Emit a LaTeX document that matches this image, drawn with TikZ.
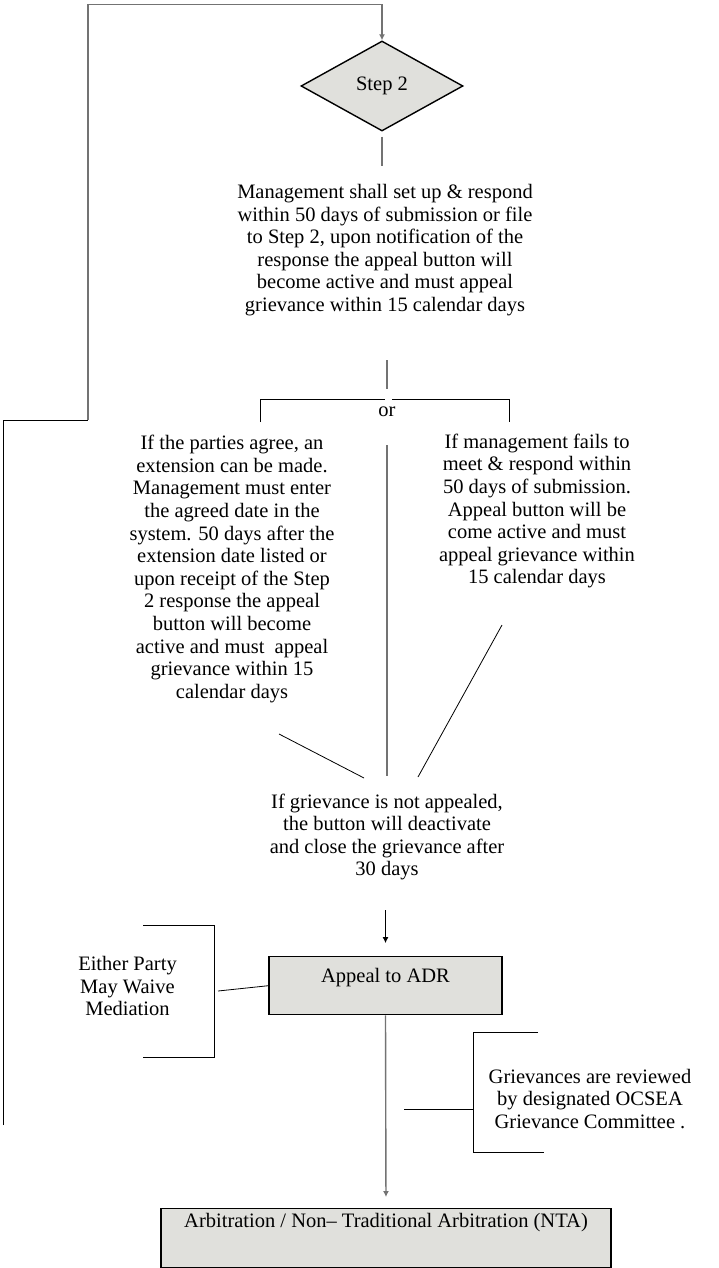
\documentclass[tikz,border=0pt]{standalone}
\usepackage{fontspec}
\setmainfont{Liberation Serif}
\usetikzlibrary{arrows.meta,shapes.geometric}

\definecolor{boxgray}{RGB}{224,224,220}

\begin{document}
\begin{tikzpicture}[x=1pt,y=-1pt,
	txt/.style={align=center,inner sep=0pt,font=\fontsize{20.5}{22.6}\selectfont},
	grayln/.style={draw=black!55,line width=1.4pt},
	thinln/.style={draw=black,line width=0.8pt},
	tipln/.style={-{Latex[length=6pt,width=6pt]}},
	stepbox/.style={draw,fill=boxgray,line width=1.4pt,font=\fontsize{20.5}{22.6}\selectfont}]
\useasboundingbox (0,0) rectangle (719,1268);

% step 2 and its response text
\node[stepbox,shape=diamond,inner sep=0pt,minimum width=162pt,minimum height=90pt] (step) at (382,86) {Step 2};
\node[txt] (mgmt) at (385,250) {Management shall set up \& respond\\within 50 days of submission or file\\to Step 2, upon notification of the\\response the appeal button will\\become active and must appeal\\grievance within 15 calendar days};
\draw[grayln] ([yshift=-5pt]step.south) -- ([yshift=-34pt]step.south);

% the two branches
\coordinate (split) at (387,360);
\coordinate (fork) at (387,389);
\draw[grayln] (split) -- (fork);
\draw[thinln] (260,422) |- (385,399);
\draw[thinln] (392,399) -| (509,422);
\node[txt] (or) at (387,412) {or};
\node[txt] (agree) at (232,569) {If the parties agree, an\\extension can be made.\\Management must enter\\the agreed date in the\\system. 50 days after the\\extension date listed or\\upon receipt of the Step\\2 response the appeal\\button will become\\active and must\ \ appeal\\grievance within 15\\calendar days};
\node[txt] (fails) at (537,511) {If management fails to\\meet \& respond within\\50 days of submission.\\Appeal button will be\\come active and must\\appeal grievance within\\15 calendar days};
\node[txt] (notapp) at (387,837) {If grievance is not appealed,\\the button will deactivate\\and close the grievance after\\30 days};
\coordinate (midtop) at (387,445);
\coordinate (midbot) at (387,776);
\draw[grayln] (midtop) -- (midbot);
\draw[thinln] (279,734) -- (364,778);
\draw[thinln] (502,625) -- (418,777);

% ADR and arbitration
\node[stepbox,minimum width=233pt,text height=22pt,text depth=28pt,inner sep=4pt,anchor=north] (adr) at (385.5,956) {Appeal to ADR};
\node[stepbox,minimum width=450pt,text height=15pt,text depth=36pt,inner sep=4pt,anchor=north] (arb) at (386,1208) {Arbitration / Non-- Traditional Arbitration (NTA)};
\draw[thinln,tipln,shorten >=13pt] ([yshift=46pt]adr.north) -- (adr.north);
\draw[grayln,tipln,shorten >=11pt] (adr.south) -- (arb.north);

% side notes
\node[txt] (waive) at (127.5,986) {Either Party\\May Waive\\Mediation};
\draw[thinln] (143,925) -- (214,925) -- (214,1057) -- (143,1057);
\draw[thinln] (218,991) -- (adr.west);
\node[txt] (review) at (590,1099) {Grievances are reviewed\\by designated OCSEA\\Grievance Committee .};
\draw[thinln] (538,1032) -- (473,1032) -- (473,1152) -- (544,1152);
\draw[thinln] (404,1109) -- (473,1109);

% loop back up to step 2
\coordinate (loopend) at (3,1125);
\draw[thinln] (loopend) -- (3,420) -- (88,420);
\draw[grayln,tipln] (88,420) -- (88,4.5) -| (step.north);
\end{tikzpicture}
\end{document}
